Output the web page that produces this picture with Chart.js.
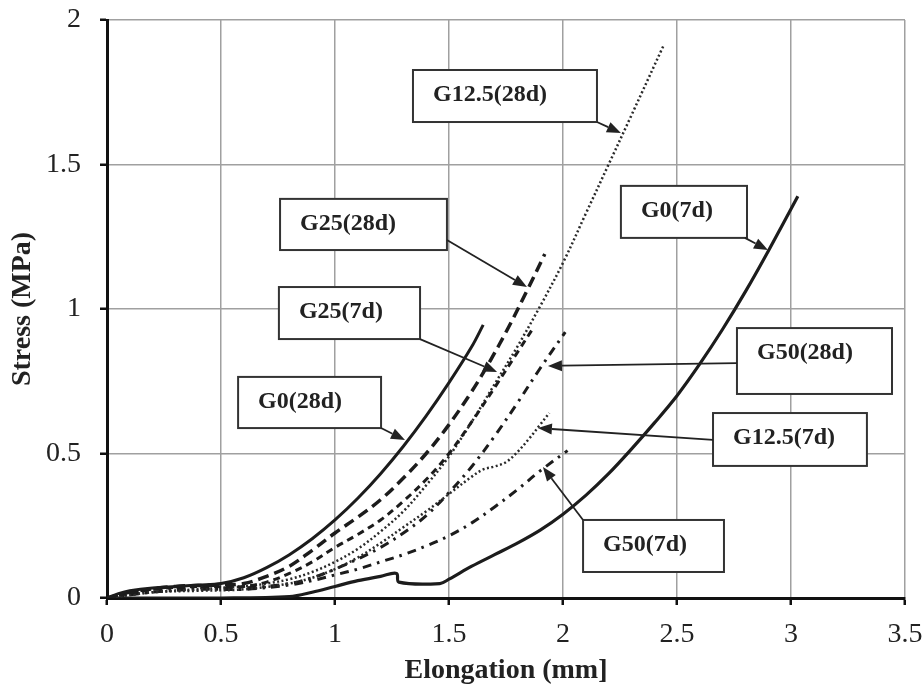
<!DOCTYPE html>
<html lang="en">
<head>
    <meta charset="UTF-8">
    <title>Stress vs Elongation</title>
    <script src="https://cdn.jsdelivr.net/npm/chart.js"></script>
    <style>
        body {
            margin: 0;
            background-color: #fff;
        }
        #chartWrap {
            width: 922px;
            height: 692px;
        }
    </style>
</head>
<body>
    <div id="chartWrap">
        <canvas id="stressChart" width="922" height="692"></canvas>
    </div>
    <script>
        // axis ticks
        const xTicks = [0, 0.5, 1, 1.5, 2, 2.5, 3, 3.5];
        const yTicks = [0, 0.5, 1, 1.5, 2];

        // curves: elongation (mm) / stress (MPa)
        const g0_28d_x = [0, 0.05, 0.1, 0.2, 0.3, 0.4, 0.5, 0.6, 0.7, 0.8, 0.9, 1.0, 1.1, 1.2, 1.3, 1.4, 1.5, 1.6, 1.65];
        const g0_28d_y = [0, 0.015, 0.025, 0.035, 0.04, 0.045, 0.05, 0.07, 0.105, 0.15, 0.205, 0.27, 0.345, 0.43, 0.525, 0.63, 0.745, 0.87, 0.945];

        const g25_28d_x = [0, 0.1, 0.3, 0.5, 0.6, 0.7, 0.8, 0.9, 1.0, 1.1, 1.2, 1.3, 1.4, 1.5, 1.6, 1.68, 1.76, 1.84, 1.92];
        const g25_28d_y = [0, 0.02, 0.04, 0.045, 0.05, 0.075, 0.11, 0.165, 0.225, 0.28, 0.34, 0.415, 0.5, 0.6, 0.715, 0.82, 0.935, 1.06, 1.19];

        const g25_7d_x = [0, 0.2, 0.4, 0.6, 0.7, 0.8, 0.9, 1.0, 1.1, 1.2, 1.3, 1.4, 1.5, 1.6, 1.71, 1.8, 1.87];
        const g25_7d_y = [0, 0.03, 0.04, 0.04, 0.055, 0.085, 0.125, 0.175, 0.22, 0.27, 0.335, 0.41, 0.5, 0.61, 0.74, 0.85, 0.935];

        const g125_28d_x = [0, 0.2, 0.4, 0.6, 0.7, 0.8, 0.9, 1.0, 1.1, 1.2, 1.3, 1.4, 1.5, 1.6, 1.7, 1.8, 1.9, 2.0, 2.1, 2.2, 2.3, 2.44];
        const g125_28d_y = [0, 0.02, 0.03, 0.04, 0.05, 0.065, 0.09, 0.125, 0.17, 0.23, 0.3, 0.39, 0.49, 0.61, 0.74, 0.87, 1.01, 1.16, 1.33, 1.5, 1.67, 1.91];

        const g125_7d_x = [0, 0.2, 0.4, 0.6, 0.8, 0.9, 1.0, 1.1, 1.2, 1.3, 1.4, 1.5, 1.6, 1.65, 1.7, 1.75, 1.8, 1.85, 1.9, 1.94];
        const g125_7d_y = [0, 0.02, 0.025, 0.03, 0.05, 0.07, 0.1, 0.14, 0.19, 0.245, 0.3, 0.36, 0.42, 0.445, 0.455, 0.47, 0.505, 0.55, 0.6, 0.64];

        const g50_28d_x = [0, 0.2, 0.4, 0.6, 0.8, 0.9, 1.0, 1.1, 1.2, 1.3, 1.4, 1.5, 1.6, 1.7, 1.8, 1.9, 2.01];
        const g50_28d_y = [0, 0.03, 0.035, 0.035, 0.05, 0.07, 0.1, 0.135, 0.175, 0.225, 0.285, 0.365, 0.455, 0.56, 0.675, 0.795, 0.92];

        const g50_7d_x = [0, 0.2, 0.4, 0.6, 0.8, 0.9, 1.0, 1.1, 1.2, 1.3, 1.4, 1.5, 1.6, 1.7, 1.8, 1.9, 2.02];
        const g50_7d_y = [0, 0.02, 0.03, 0.03, 0.045, 0.06, 0.08, 0.1, 0.125, 0.15, 0.18, 0.215, 0.26, 0.315, 0.375, 0.44, 0.51];

        const g0_7d_x = [0, 0.5, 0.8, 0.9, 1.0, 1.1, 1.2, 1.27, 1.28, 1.46, 1.5, 1.6, 1.7, 1.8, 1.9, 2.0, 2.1, 2.2, 2.3, 2.4, 2.5, 2.6, 2.7, 2.8, 2.9, 3.03];
        const g0_7d_y = [0, 0, 0.005, 0.02, 0.04, 0.06, 0.075, 0.085, 0.055, 0.05, 0.065, 0.11, 0.15, 0.19, 0.235, 0.29, 0.355, 0.43, 0.515, 0.605, 0.7, 0.81, 0.93, 1.06, 1.2, 1.39];

        // callout labels (box corners and arrow ends in axis units)
        const noteLabels = ['G12.5(28d)', 'G25(28d)', 'G25(7d)', 'G0(28d)', 'G0(7d)', 'G50(28d)', 'G12.5(7d)', 'G50(7d)'];
        const noteBoxes = [
            [1.342, 1.827, 2.149, 1.647],
            [0.759, 1.381, 1.491, 1.204],
            [0.754, 1.076, 1.373, 0.896],
            [0.575, 0.765, 1.202, 0.588],
            [2.254, 1.426, 2.807, 1.246],
            [2.763, 0.934, 3.443, 0.706],
            [2.658, 0.640, 3.333, 0.457],
            [2.088, 0.270, 2.706, 0.090]
        ];
        const noteArrows = [
            [2.149, 1.647, 2.254, 1.609],
            [1.491, 1.239, 1.842, 1.076],
            [1.373, 0.896, 1.711, 0.782],
            [1.202, 0.588, 1.307, 0.547],
            [2.798, 1.246, 2.899, 1.204],
            [2.763, 0.813, 1.934, 0.803],
            [2.658, 0.547, 1.890, 0.588],
            [2.088, 0.270, 1.912, 0.453]
        ];

        const ink = '#1c1c1c';

        function toPoints(xs, ys) {
            return xs.map((v, i) => ({ x: v, y: ys[i] }));
        }

        function series(label, xs, ys, dash, width, color) {
            return {
                label: label,
                data: toPoints(xs, ys),
                borderColor: color || ink,
                borderWidth: width,
                borderDash: dash,
                pointRadius: 0,
                fill: false,
                tension: 0.35
            };
        }

        const callouts = {
            id: 'callouts',
            afterDatasetsDraw(chart) {
                const { ctx, scales: { x, y } } = chart;
                ctx.save();
                noteLabels.forEach((text, i) => {
                    const b = noteBoxes[i];
                    const left = x.getPixelForValue(b[0]);
                    const top = y.getPixelForValue(b[1]);
                    const right = x.getPixelForValue(b[2]);
                    const bottom = y.getPixelForValue(b[3]);

                    ctx.setLineDash([]);
                    ctx.fillStyle = '#fff';
                    ctx.fillRect(left, top, right - left, bottom - top);
                    ctx.strokeStyle = '#333';
                    ctx.lineWidth = 2;
                    ctx.strokeRect(left, top, right - left, bottom - top);

                    ctx.fillStyle = '#222';
                    ctx.font = 'bold 24px "Liberation Serif"';
                    ctx.textAlign = 'left';
                    ctx.textBaseline = 'middle';
                    ctx.fillText(text, left + 20, top + 25);

                    // arrow
                    const a = noteArrows[i];
                    const x0 = x.getPixelForValue(a[0]), y0 = y.getPixelForValue(a[1]);
                    const x1 = x.getPixelForValue(a[2]), y1 = y.getPixelForValue(a[3]);
                    const ang = Math.atan2(y1 - y0, x1 - x0);
                    const head = 14, half = 5.5;
                    const bx = x1 - head * Math.cos(ang), by = y1 - head * Math.sin(ang);
                    ctx.strokeStyle = '#222';
                    ctx.lineWidth = 1.8;
                    ctx.beginPath();
                    ctx.moveTo(x0, y0);
                    ctx.lineTo(bx, by);
                    ctx.stroke();
                    ctx.fillStyle = '#222';
                    ctx.beginPath();
                    ctx.moveTo(x1, y1);
                    ctx.lineTo(bx + half * Math.sin(ang), by - half * Math.cos(ang));
                    ctx.lineTo(bx - half * Math.sin(ang), by + half * Math.cos(ang));
                    ctx.closePath();
                    ctx.fill();
                });
                ctx.restore();
            }
        };

        const tickFont = { family: 'Liberation Serif', size: 28 };
        const titleFont = { family: 'Liberation Serif', size: 28, weight: 'bold' };

        const ctx = document.getElementById('stressChart').getContext('2d');
        new Chart(ctx, {
            type: 'line',
            data: {
                datasets: [
                    series('G0(28d)', g0_28d_x, g0_28d_y, [], 3),
                    series('G25(28d)', g25_28d_x, g25_28d_y, [11, 6], 3.5),
                    series('G25(7d)', g25_7d_x, g25_7d_y, [7, 5], 3),
                    series('G12.5(28d)', g125_28d_x, g125_28d_y, [2, 2.5], 2.5, '#2a2a2a'),
                    series('G12.5(7d)', g125_7d_x, g125_7d_y, [2, 2.5], 2.5, '#2a2a2a'),
                    series('G50(28d)', g50_28d_x, g50_28d_y, [9, 6, 2.5, 6], 3),
                    series('G50(7d)', g50_7d_x, g50_7d_y, [9, 6, 2.5, 6], 3),
                    series('G0(7d)', g0_7d_x, g0_7d_y, [], 3.2)
                ]
            },
            options: {
                responsive: false,
                devicePixelRatio: 1,
                animation: false,
                layout: {
                    padding: { top: 20, right: 17, left: 0, bottom: 0 }
                },
                plugins: {
                    legend: { display: false },
                    tooltip: { enabled: false }
                },
                scales: {
                    x: {
                        type: 'linear',
                        min: 0,
                        max: 3.5,
                        afterBuildTicks: s => { s.ticks = xTicks.map(v => ({ value: v })); },
                        afterFit: s => { s.height = 94; s.paddingLeft = 0; s.paddingRight = 0; },
                        ticks: { font: tickFont, color: '#222', padding: 13, maxRotation: 0, callback: v => String(v) },
                        grid: { color: '#a0a0a0', lineWidth: 1.5, tickLength: 7, tickColor: '#111', tickWidth: 2.5 },
                        border: { color: '#111', width: 3 },
                        title: {
                            display: true,
                            text: 'Elongation (mm]',
                            font: titleFont,
                            color: '#222',
                            padding: { top: 0, bottom: 4 }
                        }
                    },
                    y: {
                        type: 'linear',
                        min: 0,
                        max: 2,
                        afterBuildTicks: s => { s.ticks = yTicks.map(v => ({ value: v })); },
                        afterFit: s => { s.width = 107; s.paddingTop = 0; s.paddingBottom = 0; },
                        ticks: { font: tickFont, color: '#222', padding: 19, callback: v => String(v) },
                        grid: { color: '#a0a0a0', lineWidth: 1.5, tickLength: 7, tickColor: '#111', tickWidth: 2.5 },
                        border: { color: '#111', width: 3 },
                        title: {
                            display: true,
                            text: 'Stress (MPa)',
                            font: titleFont,
                            color: '#222',
                            padding: { top: 6, bottom: 0 }
                        }
                    }
                }
            },
            plugins: [callouts]
        });
    </script>
</body>
</html>
